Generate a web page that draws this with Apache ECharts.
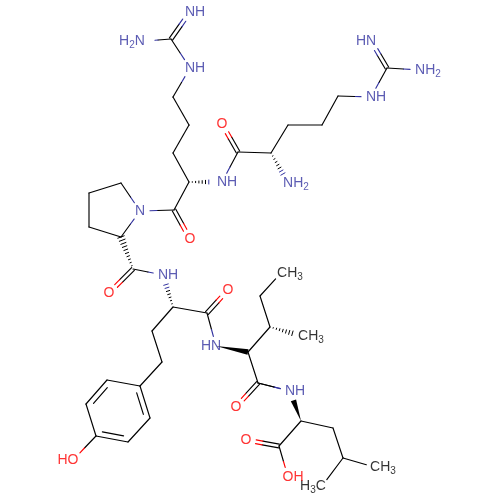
<!DOCTYPE html>
<html><head><meta charset="utf-8"><style>html,body{margin:0;background:#fff}#c{width:500px;height:500px}</style>
<script src="https://cdn.jsdelivr.net/npm/echarts@6/dist/echarts.min.js"></script></head><body><div id="c"></div>
<script>
// atoms: x, y on a 0-500 drawing scale, y downward (label centres for labelled atoms)
const atomX=[171,195,132,195,173,189,173,189,227,174,190,140,121,89,89,121,133,109,168,173,207,228,211,152,162,140,150,128,96,86,107,68,248,270,260,290,311,258,236,295,301,333,343,383,313,279,246,293,387,366,428,376,338,322,288,271,296,238,222];
const atomY=[39,12,41,68,97,125,153,182,182,210,239,211,183,193,227,237,269,293,275,307,313,290,346,331,362,386,418,442,436,404,380,460,352,327,296,273,336,383,407,391,421,428,458,467,486,446,440,477,68,41,70,97,96,125,125,153,183,152,124];
const atomLabels=['','NH','H2N','NH','','','','','NH','','O','N','','','','','','O','NH','','','O','HN','','','','','','','','','HO','','','','CH3','CH3','','O','NH','','','','CH3','H3C','','O','OH','','HN','NH2','NH','','','','','NH2','','O'];
const labelShifts={NH:-5,HN:5,H2N:13,NH2:-8,CH3:-9,H3C:9,HO:5,OH:-5};
const bondFrom=[0,0,0,3,4,5,6,7,7,9,9,11,12,13,14,15,16,16,18,19,19,20,20,19,23,24,25,26,27,28,29,30,28,22,32,32,33,33,34,37,37,39,40,40,41,42,42,40,45,45,48,48,48,51,52,53,54,55,55,57,57];
const bondTo=[1,2,3,4,5,6,7,8,9,10,11,12,13,14,15,11,15,17,16,18,20,21,22,23,24,25,26,27,28,29,30,25,31,32,33,37,34,36,35,38,39,37,39,41,42,43,44,45,46,47,49,50,51,52,53,54,55,56,57,58,8];
const bondKinds=['d','s','s','s','s','s','s','h','s','d','s','s','s','s','s','s','h','d','s','h','s','d','s','s','s','s','r','s','r','s','r','s','s','w','s','s','s','h','s','d','s','s','w','s','s','s','s','s','d','s','d','s','s','s','s','s','s','h','s','d','s'];
const ringAtoms=[25,26,27,28,29,30];
const INK='#000000',BLUE='#3333a0',RED='#ff0000';
function col(i){const l=atomLabels[i];if(!l||l[0]==='C'||l==='H3C')return INK;return l.includes('O')?RED:BLUE;}
function trim(i){const l=atomLabels[i];if(!l)return 0;return (l==='CH3'||l==='H3C')?8:10;}
function ax(i){return atomX[i]+(labelShifts[atomLabels[i]]||0);}
const chart=echarts.init(document.getElementById('c'),null,{renderer:'canvas'});
function renderBond(params,api){
  const a=api.value(0),b=api.value(1),kind=bondKinds[params.dataIndex];
  const P=api.coord([ax(a),atomY[a]]),Q=api.coord([ax(b),atomY[b]]);
  const dx=Q[0]-P[0],dy=Q[1]-P[1],L=Math.hypot(dx,dy),ux=dx/L,uy=dy/L,nx=-uy,ny=ux;
  const ta=trim(a),tb=trim(b);
  const S=[P[0]+ux*ta,P[1]+uy*ta],E=[Q[0]-ux*tb,Q[1]-uy*tb];
  const kids=[];
  const seg=(A,B,c,w)=>kids.push({type:'line',shape:{x1:A[0],y1:A[1],x2:B[0],y2:B[1]},style:{stroke:c,lineWidth:w||1.15,lineCap:'round'}});
  const two=(A,B)=>{const ca=col(a),cb=col(b);
    if(ca===cb){seg(A,B,ca);return;}
    const sh=[(P[0]+Q[0]-S[0]-E[0])/2,(P[1]+Q[1]-S[1]-E[1])/2];
    const M=[(A[0]+B[0])/2+sh[0],(A[1]+B[1])/2+sh[1]];
    seg(A,M,ca);seg(M,B,cb);};
  if(kind==='s')two(S,E);
  else if(kind==='d'){
    const o=1.9;two([S[0]+nx*o,S[1]+ny*o],[E[0]+nx*o,E[1]+ny*o]);two([S[0]-nx*o,S[1]-ny*o],[E[0]-nx*o,E[1]-ny*o]);
  } else if(kind==='r'){
    two(S,E);
    const c=api.coord([ringAtoms.reduce((s,i)=>s+atomX[i],0)/6,ringAtoms.reduce((s,i)=>s+atomY[i],0)/6]);
    const sgn=((c[0]-P[0])*nx+(c[1]-P[1])*ny)>0?1:-1,o=5.2*sgn,in_=5.5;
    seg([S[0]+ux*in_+nx*o,S[1]+uy*in_+ny*o],[E[0]-ux*in_+nx*o,E[1]-uy*in_+ny*o],INK);
  } else if(kind==='h'){
    const n=Math.round(L/3.3);
    for(let i=1;i<=n;i++){const t=i/n;const d=L*t;if(d>L-tb)break;const hw=t*3.4;
      const c=[P[0]+ux*d,P[1]+uy*d];seg([c[0]+nx*hw,c[1]+ny*hw],[c[0]-nx*hw,c[1]-ny*hw],d>L/2?col(b):col(a),1);}
  } else if(kind==='w'){
    kids.push({type:'polygon',shape:{points:[P,[E[0]+nx*2.8,E[1]+ny*2.8],[E[0]-nx*2.8,E[1]-ny*2.8]]},style:{fill:INK}});
  }
  return {type:'group',children:kids};
}
const FONT='"Liberation Sans",Arial,sans-serif';
function fmt(s){return s.replace(/(\d)/g,'{sub|$1}');}
chart.setOption({animation:false,backgroundColor:'#fff',
 grid:{left:0,right:0,top:0,bottom:0},
 xAxis:{type:'value',min:0,max:500,show:false},
 yAxis:{type:'value',min:0,max:500,inverse:true,show:false},
 series:[
  {type:'custom',renderItem:renderBond,silent:true,data:bondFrom.map((f,i)=>[f,bondTo[i]]),encode:{x:[],y:[]},clip:false},
  {type:'scatter',symbolSize:0,silent:true,z:5,data:atomX.map((x,i)=>({value:[x,atomY[i]],name:atomLabels[i],itemStyle:{color:col(i)},
    label:{show:!!atomLabels[i],position:'inside',formatter:fmt(atomLabels[i])||' ',color:col(i),fontFamily:FONT,fontSize:14,
      rich:{sub:{fontSize:10,color:col(i),fontFamily:FONT,verticalAlign:'bottom',padding:[9,0,0,0]}}}}))}
 ]});
</script></body></html>
